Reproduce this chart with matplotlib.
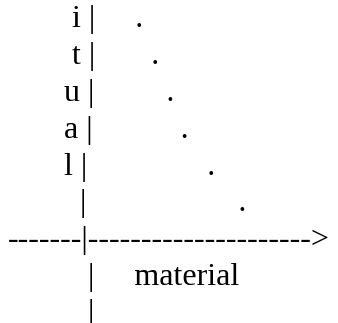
import matplotlib
matplotlib.use("Agg")
import matplotlib.pyplot as plt

# ASCII chart content, one string per text line
lines = [
    "        i |     .",
    "        t |       .",
    "       u |         .",
    "       a |           .",
    "       l |               .",
    "         |                   .",
    "-------|--------------------->",
    "          |     material",
    "          |",
]

W, H = 338, 323
fig = plt.figure(figsize=(W / 100, H / 100), dpi=100)
fig.patch.set_facecolor("white")

font_px = 32
fs = font_px * 72 / 100
first_baseline = 27.5
pitch = 36.75
left = 7.7

for i, s in enumerate(lines):
    yb = first_baseline + i * pitch
    fig.text(left / W, 1 - yb / H, s, ha="left", va="baseline",
             family="Liberation Serif", fontsize=fs, color="black")

fig.savefig("out.png", dpi=100)
